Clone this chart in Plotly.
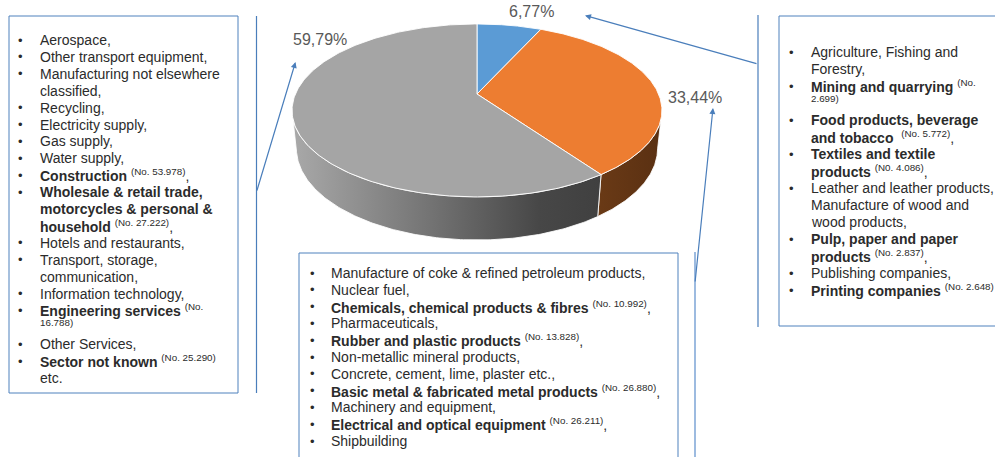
import numpy as np
import plotly.graph_objects as go

# ---------------------------------------------------------------- data
shares = [6.77, 33.44, 59.79]                      # percent, clockwise from 12 o'clock
top_colors = ["#5b9bd5", "#ed7d31", "#a5a5a5"]
side_scales = [
    [[0, "#3b6f9e"], [1, "#2c5680"]],
    [[0, "#6a3a16"], [1, "#5a3012"]],
    [[0, "#a9a9a9"], [0.45, "#737373"], [0.8, "#474747"], [1, "#404040"]],
]

left_items = [
    ["Aerospace,"],
    ["Other transport equipment,"],
    ["Manufacturing not elsewhere", "classified,"],
    ["Recycling,"],
    ["Electricity supply,"],
    ["Gas supply,"],
    ["Water supply,"],
    ["<b>Construction</b> <sup>(No. 53.978)</sup>,"],
    ["<b>Wholesale & retail trade,</b>", "<b>motorcycles & personal &</b>",
     "<b>household</b> <sup>(No. 27.222)</sup>,"],
    ["Hotels and restaurants,"],
    ["Transport, storage,", "communication,"],
    ["Information technology,"],
    ["<b>Engineering services</b> <sup>(No.</sup>", "<sup>16.788)</sup>"],
    ["Other Services,"],
    ["<b>Sector not known</b> <sup>(No. 25.290)</sup>", "etc."],
]

right_items = [
    ["Agriculture, Fishing and", "Forestry,"],
    ["<b>Mining and quarrying</b> <sup>(No.</sup>", "<sup>2.699)</sup>"],
    ["<b>Food products, beverage</b>", "<b>and tobacco</b>  <sup>(No. 5.772)</sup>,"],
    ["<b>Textiles and textile</b>", "<b>products</b> <sup>(N0. 4.086)</sup>,"],
    ["Leather and leather products,", "Manufacture of wood and", "wood products,"],
    ["<b>Pulp, paper and paper</b>", "<b>products</b> <sup>(No. 2.837)</sup>,"],
    ["Publishing companies,"],
    ["<b>Printing companies</b> <sup>(No. 2.648)</sup>"],
]

bottom_items = [
    ["Manufacture of coke & refined petroleum products,"],
    ["Nuclear fuel,"],
    ["<b>Chemicals, chemical products & fibres</b> <sup>(No. 10.992)</sup>,"],
    ["Pharmaceuticals,"],
    ["<b>Rubber and plastic products</b> <sup>(No. 13.828)</sup>,"],
    ["Non-metallic mineral products,"],
    ["Concrete, cement, lime, plaster etc.,"],
    ["<b>Basic metal & fabricated metal products</b> <sup>(No. 26.880)</sup>,"],
    ["Machinery and equipment,"],
    ["<b>Electrical and optical equipment</b> <sup>(No. 26.211)</sup>,"],
    ["Shipbuilding"],
]

# ---------------------------------------------------------------- canvas
W, H = 995, 457
FONT = "Arial, 'Liberation Sans', sans-serif"
TEXT_COLOR = "#2b2b2b"
BOX_COLOR = "#4f81bd"
ARROW_COLOR = "#4a7ebb"

fig = go.Figure()

# ---------------------------------------------------------------- 3-D pie
# A flat disc seen from above with a perspective camera.
CX, CY = 477.0, 94.0          # screen position of the disc centre
SCALE = 181.6                 # horizontal half-size at mid depth
SIN_T = 0.459                 # tilt of the disc towards the viewer
COS_T = np.sqrt(1 - SIN_T ** 2)
DIST = COS_T / 0.19           # camera distance in disc radii
FOC = SCALE * DIST
DEPTH = 0.2376                # disc thickness in radii


def project(theta_deg, level):
    t = np.radians(theta_deg)
    x3, z3 = np.sin(t), np.cos(t)
    yc = z3 * SIN_T + level * COS_T
    zc = z3 * COS_T - level * SIN_T
    return CX + FOC * x3 / (DIST + zc), CY - FOC * yc / (DIST + zc)


total = float(sum(shares))
bounds = np.concatenate([[0.0], np.cumsum(shares) / total * 360.0])

grid = np.linspace(0, 360, 7201)
gx, _ = project(grid, 0.0)
right_sil = grid[grid <= 180][np.argmax(gx[grid <= 180])]
left_sil = grid[grid >= 180][np.argmin(gx[grid >= 180])]

# side walls (front half only)
for i in range(len(shares)):
    lo = max(bounds[i], right_sil)
    hi = min(bounds[i + 1], left_sil)
    if hi <= lo:
        continue
    th = np.linspace(lo, hi, 160)
    tx, ty = project(th, 0.0)
    bx, by = project(th[::-1], -DEPTH)
    fig.add_trace(go.Scatter(
        x=np.concatenate([tx, bx, tx[:1]]),
        y=np.concatenate([ty, by, ty[:1]]),
        mode="lines", fill="toself",
        fillgradient=dict(type="horizontal", colorscale=side_scales[i]),
        line=dict(color="rgba(255,255,255,0.85)", width=1),
        hoverinfo="skip", showlegend=False,
    ))

# top faces
for i in range(len(shares)):
    th = np.linspace(bounds[i], bounds[i + 1], 240)
    ax_, ay_ = project(th, 0.0)
    fig.add_trace(go.Scatter(
        x=np.concatenate([[CX], ax_, [CX]]),
        y=np.concatenate([[CY], ay_, [CY]]),
        mode="lines", fill="toself", fillcolor=top_colors[i],
        line=dict(color="rgba(255,255,255,0.9)", width=1),
        hoverinfo="skip", showlegend=False,
    ))

# percentage labels
label_pos = [(531, 11), (695, 97), (320, 39)]
annotations = []
for v, (lx, ly) in zip(shares, label_pos):
    annotations.append(dict(
        x=lx, y=ly, xref="x", yref="y", showarrow=False,
        text=f"{v:.2f}".replace(".", ",") + "%",
        font=dict(family=FONT, size=16, color="#595959"),
        xanchor="center", yanchor="middle",
    ))


# ---------------------------------------------------------------- text boxes
def add_list(items, bullet_x, text_x, first_y, lh, size=14):
    row = 0
    for item in items:
        annotations.append(dict(
            x=bullet_x, y=first_y + row * lh, xref="x", yref="y", showarrow=False,
            text="•", xanchor="center", yanchor="middle",
            font=dict(family=FONT, size=size - 1, color=TEXT_COLOR)))
        for line in item:
            y = first_y + row * lh
            fs = size
            txt = line
            if line.startswith("<sup>") and line.endswith("</sup>"):
                # a wrapped piece of a superscript note: small, sitting high
                txt = line[5:-6]
                fs = round(size * 0.7, 1)
                y -= 0.26 * lh
            annotations.append(dict(
                x=text_x, y=y, xref="x", yref="y", showarrow=False,
                text=txt, xanchor="left", yanchor="middle", align="left",
                font=dict(family=FONT, size=fs, color=TEXT_COLOR)))
            row += 1


add_list(left_items, 20, 38, 40, 16.9)
add_list(right_items, 791, 809, 52, 17.0)
add_list(bottom_items, 312, 329, 273, 16.8)

shapes = [
    # frames
    dict(type="rect", x0=9, x1=238, y0=16, y1=393, line=dict(color=BOX_COLOR, width=1)),
    dict(type="rect", x0=779, x1=1010, y0=16, y1=326, line=dict(color=BOX_COLOR, width=1)),
    dict(type="rect", x0=299, x1=678, y0=253, y1=480, line=dict(color=BOX_COLOR, width=1)),
    # connector stems
    dict(type="line", x0=256.5, x1=256.5, y0=16, y1=393, line=dict(color=ARROW_COLOR, width=1.2)),
    dict(type="line", x0=758, x1=758, y0=15, y1=327, line=dict(color=ARROW_COLOR, width=1.2)),
    dict(type="line", x0=695, x1=695, y0=252, y1=470, line=dict(color="#9dbbe0", width=2)),
]

# pointers from each box towards its slice label
for x0, y0, x1, y1 in [(256.5, 192, 295.5, 62), (758, 64, 585, 15.5), (695, 283, 713, 108)]:
    annotations.append(dict(
        x=x1, y=y1, ax=x0, ay=y0, xref="x", yref="y", axref="x", ayref="y",
        text="", showarrow=True, arrowhead=2, arrowsize=1, arrowwidth=1.2,
        arrowcolor=ARROW_COLOR, standoff=0,
    ))

fig.update_layout(
    width=W, height=H,
    margin=dict(l=0, r=0, t=0, b=0),
    paper_bgcolor="white", plot_bgcolor="white",
    xaxis=dict(range=[0, W], visible=False, fixedrange=True),
    yaxis=dict(range=[H, 0], visible=False, fixedrange=True),
    shapes=shapes, annotations=annotations,
)

fig.write_html("out.html")
